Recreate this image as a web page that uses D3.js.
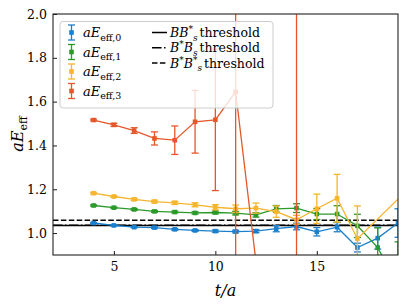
<!DOCTYPE html>
<meta charset="utf-8">
<style>
body { margin: 0; background: #fff; }
svg { display: block; }
</style>
<svg width="407" height="305"></svg>
<script src="https://d3js.org/d3.v7.min.js"></script>
<script>

// effective energies per time slice
var tE0 = [4, 5, 6, 7, 8, 9, 10, 11, 12, 13, 14, 15, 16, 17, 18, 19];
var vE0 = [1.046, 1.035, 1.027, 1.025, 1.017, 1.012, 1.009, 1.007, 1.009, 1.020, 1.030, 1.006, 1.027, 0.934, 0.977, 1.046];
var eE0 = [0.003, 0.003, 0.003, 0.004, 0.004, 0.004, 0.005, 0.006, 0.007, 0.014, 0.015, 0.019, 0.021, 0.02, 0.05, 0.065];

var tE1 = [4, 5, 6, 7, 8, 9, 10, 11, 12, 13, 14, 15, 16, 17, 18, 19];
var vE1 = [1.126, 1.116, 1.108, 1.099, 1.096, 1.092, 1.094, 1.091, 1.083, 1.111, 1.114, 1.087, 1.087, 1.033, 0.934, 0.76];
var eE1 = [0.003, 0.003, 0.004, 0.004, 0.004, 0.005, 0.006, 0.008, 0.01, 0.015, 0.02, 0.025, 0.038, 0.053, 0.09, 0.2];

var tE2 = [4, 5, 6, 7, 8, 9, 10, 11, 12, 13, 14, 15, 16, 17, 20];
var vE2 = [1.182, 1.167, 1.154, 1.144, 1.138, 1.129, 1.118, 1.111, 1.114, 1.098, 1.061, 1.111, 1.159, 0.974, 1.245];
var eE2 = [0.004, 0.004, 0.005, 0.006, 0.007, 0.009, 0.012, 0.017, 0.023, 0.026, 0.02, 0.067, 0.109, 0.15, 0];

var tE3 = [4, 5, 6, 7, 8, 9, 10, 11, 12, 13, 14];
var vE3 = [1.516, 1.494, 1.468, 1.432, 1.424, 1.508, 1.517, 1.645, 0.87, 0.6, 0.7];
var eE3 = [0.004, 0.007, 0.013, 0.03, 0.065, 0.143, 0.323, 1.2, 0.02, 0.1, 1.6];

// thresholds
var thrBBs = 1.0346;   // B B*_s
var thrBsB = 1.0358;   // B* B_s
var thrBsBs = 1.059;   // B* B*_s

var yTicks = [1.0, 1.2, 1.4, 1.6, 1.8, 2.0];
var xTicks = [5, 10, 15];

var series = [
  {t: tE0, v: vE0, e: eE0, color: "#1a7fcc", sub: "eff,0"},
  {t: tE1, v: vE1, e: eE1, color: "#2b9a2b", sub: "eff,1"},
  {t: tE2, v: vE2, e: eE2, color: "#f5b52e", sub: "eff,2"},
  {t: tE3, v: vE3, e: eE3, color: "#e5572b", sub: "eff,3"}
];

var serif = "'DejaVu Serif', 'Liberation Serif', serif";

var svg = d3.select("svg"),
    margin = {top: 14, right: 9, bottom: 50, left: 53},
    W = +svg.attr("width"),
    H = +svg.attr("height");

var x = d3.scaleLinear().domain([2, 19]).range([margin.left, W - margin.right]);
var y = d3.scaleLinear().domain([0.9, 2.0]).range([H - margin.bottom, margin.top]);

svg.append("clipPath").attr("id", "clip")
  .append("rect")
    .attr("x", x.range()[0]).attr("y", y.range()[1])
    .attr("width", x.range()[1] - x.range()[0])
    .attr("height", y.range()[0] - y.range()[1]);

var plot = svg.append("g").attr("clip-path", "url(#clip)");

// threshold lines
function hline(v, dash) {
  plot.append("line")
      .attr("x1", x.range()[0]).attr("x2", x.range()[1])
      .attr("y1", y(v)).attr("y2", y(v))
      .attr("stroke", "#000").attr("stroke-width", 1.5)
      .attr("stroke-dasharray", dash);
}
hline(thrBBs, null);
hline(thrBsB, "9.6,2.4,1.5,2.4");
hline(thrBsBs, "5.5,2.4");

function drawSeries(s) {
  var pts = s.t.map(function(t, i) { return {t: t, v: s.v[i], e: s.e[i]}; });
  var g = plot.append("g");

  g.append("path").datum(pts)
      .attr("fill", "none")
      .attr("stroke", s.color)
      .attr("stroke-width", 1.3)
      .attr("d", d3.line().x(function(d) { return x(d.t); }).y(function(d) { return y(d.v); }));

  var eb = g.selectAll(".eb").data(pts.filter(function(d) { return d.e > 0; }))
    .enter().append("g").attr("stroke", s.color).attr("stroke-width", 1.3);

  eb.append("line")
      .attr("x1", function(d) { return x(d.t); })
      .attr("x2", function(d) { return x(d.t); })
      .attr("y1", function(d) { return y(d.v - d.e); })
      .attr("y2", function(d) { return y(d.v + d.e); });
  [-1, 1].forEach(function(k) {
    eb.append("line")
        .attr("x1", function(d) { return x(d.t) - 3.5; })
        .attr("x2", function(d) { return x(d.t) + 3.5; })
        .attr("y1", function(d) { return y(d.v + k * d.e); })
        .attr("y2", function(d) { return y(d.v + k * d.e); });
  });

  g.selectAll(".mk").data(pts).enter().append("rect")
      .attr("x", function(d) { return x(d.t) - 2.3; })
      .attr("y", function(d) { return y(d.v) - 2.3; })
      .attr("width", 4.6).attr("height", 4.6)
      .attr("fill", s.color);
}
series.forEach(drawSeries);

// axes, ticks pointing inward
var yAxis = d3.axisLeft(y).tickValues(yTicks).tickFormat(d3.format(".1f"))
    .tickSizeInner(-4).tickSizeOuter(0).tickPadding(6);
var xAxis = d3.axisBottom(x).tickValues(xTicks).tickFormat(d3.format("d"))
    .tickSizeInner(-4).tickSizeOuter(0).tickPadding(7);

function styleAxis(g) {
  g.select(".domain").remove();
  g.attr("font-family", serif).attr("font-size", 12.5);
  g.selectAll("line").attr("stroke", "#000").attr("stroke-width", 0.9);
  g.selectAll("text").attr("fill", "#000");
}
svg.append("g")
    .attr("transform", "translate(" + x.range()[0] + ",0)")
    .call(yAxis).call(styleAxis);
svg.append("g")
    .attr("transform", "translate(0," + y.range()[0] + ")")
    .call(xAxis).call(styleAxis);

svg.append("rect")
    .attr("x", x.range()[0]).attr("y", y.range()[1])
    .attr("width", x.range()[1] - x.range()[0])
    .attr("height", y.range()[0] - y.range()[1])
    .attr("fill", "none").attr("stroke", "#222").attr("stroke-width", 1.1);

// axis labels
var yl = svg.append("text")
    .attr("transform", "translate(23,134) rotate(-90)")
    .attr("font-family", serif)
    .attr("text-anchor", "middle").attr("font-size", 16);
yl.append("tspan").attr("font-style", "italic").text("aE");
yl.append("tspan").attr("font-size", 11).attr("dy", 4).text("eff");

svg.append("text")
    .attr("x", (x.range()[0] + x.range()[1]) / 2).attr("y", 296)
    .attr("font-family", serif)
    .attr("text-anchor", "middle").attr("font-size", 16)
    .attr("font-style", "italic").text("t/a");

// legend
var leg = svg.append("g").attr("font-family", serif);
leg.append("rect")
    .attr("x", 60).attr("y", 21.5).attr("width", 213).attr("height", 86.5).attr("rx", 3)
    .attr("fill", "#fff").attr("fill-opacity", 0.8)
    .attr("stroke", "#ccc").attr("stroke-width", 1);

series.forEach(function(s, i) {
  var cy = 32.5 + i * 19.5, cx = 71.5;
  var ic = leg.append("g").attr("stroke", s.color).attr("stroke-width", 1.3);
  ic.append("line").attr("x1", cx).attr("x2", cx).attr("y1", cy - 7.5).attr("y2", cy + 7.5);
  ic.append("line").attr("x1", cx - 3.5).attr("x2", cx + 3.5).attr("y1", cy - 7.5).attr("y2", cy - 7.5);
  ic.append("line").attr("x1", cx - 3.5).attr("x2", cx + 3.5).attr("y1", cy + 7.5).attr("y2", cy + 7.5);
  leg.append("rect").attr("x", cx - 2.3).attr("y", cy - 2.3).attr("width", 4.6).attr("height", 4.6).attr("fill", s.color);
  var tx = leg.append("text").attr("x", 83).attr("y", cy + 4.5).attr("font-size", 13);
  tx.append("tspan").attr("font-style", "italic").text("aE");
  tx.append("tspan").attr("font-size", 9.5).attr("dy", 3.5).text(s.sub);
});

var thrLegend = [
  {dash: null, parts: [["BB", 0], ["*", 1], ["s", 2]]},
  {dash: "9.6,2.4,1.5,2.4", parts: [["B", 0], ["*", 1], ["B", 0], ["s", 3]]},
  {dash: "5.5,2.4", parts: [["B", 0], ["*", 1], ["B", 0], ["*", 1], ["s", 2]]}
];
thrLegend.forEach(function(d, i) {
  var base = 37 + i * 15.3;
  leg.append("line").attr("x1", 152).attr("x2", 167)
      .attr("y1", base - 4.5).attr("y2", base - 4.5)
      .attr("stroke", "#000").attr("stroke-width", 1.5).attr("stroke-dasharray", d.dash);
  var tx = leg.append("text").attr("x", 170).attr("y", base).attr("font-size", 12.5);
  var level = 0;
  d.parts.forEach(function(p) {
    var sp = tx.append("tspan").attr("font-style", p[0] === "*" ? null : "italic").text(p[0]);
    if (p[1] === 0) { sp.attr("dy", -level); level = 0; }
    if (p[1] === 1) { sp.attr("font-size", 9).attr("dy", -5 - level); level = -5; }
    if (p[1] === 2) { sp.attr("font-size", 9).attr("dy", 8.5); level = 3.5; }
    if (p[1] === 3) { sp.attr("font-size", 9).attr("dy", 3.5 - level); level = 3.5; }
  });
  tx.append("tspan").attr("dy", -level).attr("dx", 2).text("threshold");
});

</script>
